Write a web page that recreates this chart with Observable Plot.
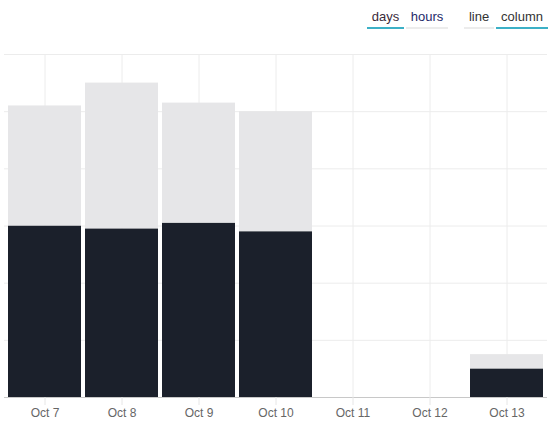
<!DOCTYPE html>
<html>
<head>
<meta charset="utf-8">
<script src="https://cdn.jsdelivr.net/npm/d3@7"></script>
<script src="https://cdn.jsdelivr.net/npm/@observablehq/plot@0.6"></script>
<style>
  html, body { margin: 0; padding: 0; background: #fff; }
  #wrap { position: relative; width: 553px; height: 431px; font-family: "Liberation Sans", Arial, sans-serif; }
  .btn { position: absolute; top: 9px; height: 18px; font-size: 13px; color: #333; text-align: center; line-height: 16px; border-bottom: 2px solid #ececec; }
  .btn.on { border-bottom-color: #3cb0c6; }
  #chart { position: absolute; left: 0; top: 0; }
</style>
</head>
<body>
<div id="wrap">
  <div id="chart"></div>
</div>
<script>
const days = ["Oct 7", "Oct 8", "Oct 9", "Oct 10", "Oct 11", "Oct 12", "Oct 13"];
const darkValues = [6.0, 5.9, 6.1, 5.8, 0, 0, 1.0];
const lightValues = [4.2, 5.1, 4.2, 4.2, 0, 0, 0.5];
const yTicks = [0, 2, 4, 6, 8, 10, 12];
const buttons = [
  {label: "days", left: 367, width: 37, on: true, color: "#3b2b3b"},
  {label: "hours", left: 406, width: 42, on: false, color: "#1e2a6a"},
  {label: "line", left: 464, width: 30, on: false, color: "#333"},
  {label: "column", left: 496, width: 52, on: true, color: "#333"}
];

const rows = [];
days.forEach((d, i) => {
  rows.push({day: d, series: "dark", value: darkValues[i]});
  rows.push({day: d, series: "light", value: lightValues[i]});
});

const wrap = document.getElementById("wrap");
buttons.forEach(b => {
  const el = document.createElement("div");
  el.className = "btn" + (b.on ? " on" : "");
  el.style.left = b.left + "px";
  el.style.width = b.width + "px";
  el.style.color = b.color;
  el.textContent = b.label;
  wrap.appendChild(el);
});

const chart = Plot.plot({
  width: 553,
  height: 431,
  marginLeft: 4,
  marginRight: 6,
  marginTop: 54,
  marginBottom: 34,
  style: {fontFamily: "'Liberation Sans', Arial, sans-serif", fontSize: "12px", background: "transparent"},
  x: {domain: days, paddingInner: 0.054, paddingOuter: 0.027, label: null},
  y: {domain: [0, 12], label: null},
  color: {domain: ["dark", "light"], range: ["#1b202b", "#e6e6e8"]},
  marks: [
    Plot.gridY(yTicks.filter(t => t > 0), {stroke: "#ececec", strokeOpacity: 1}),
    Plot.ruleX(days, {x: d => d, stroke: "#ececec", strokeOpacity: 1}),
    Plot.ruleX([0], {x: () => 0, stroke: "#ececec"}),
    Plot.barY(rows, Plot.stackY({
      x: "day", y: "value", fill: "series", order: ["dark", "light"],
      inset: 0
    })),
    Plot.ruleY([0], {stroke: "#c8c8c8", strokeWidth: 1}),
    Plot.axisX({tickSize: 8, tickPadding: 3, stroke: "#e6e6e6", color: "#666", fontSize: 12}),
    Plot.axisY({ticks: [], label: null})
  ]
});
document.getElementById("chart").appendChild(chart);
</script>
</body>
</html>
